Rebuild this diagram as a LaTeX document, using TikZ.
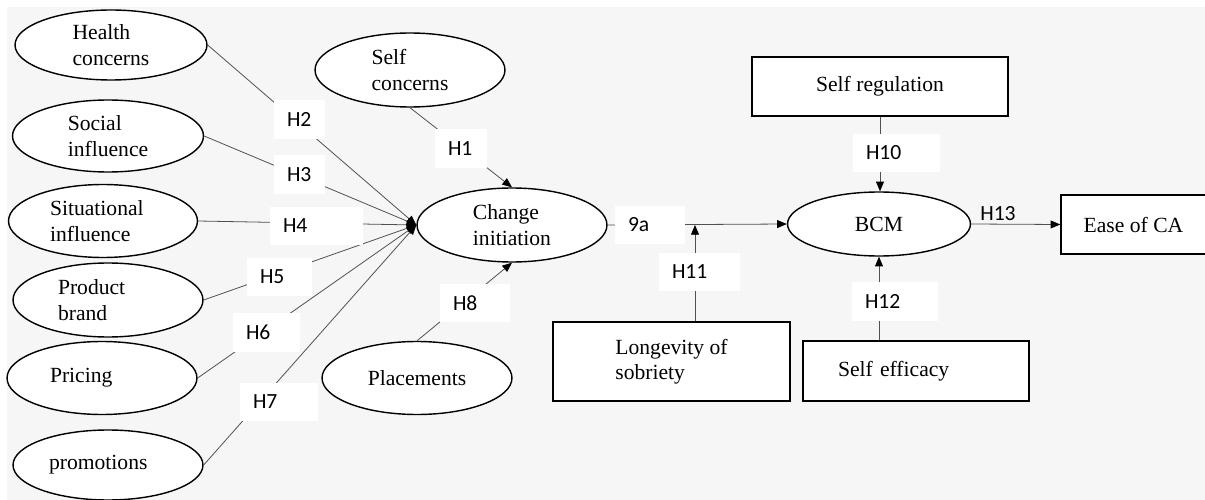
\documentclass[tikz,border=0pt]{standalone}
\usepackage{fontspec}
\setmainfont{Liberation Serif}
\newfontfamily\hypfont{Carlito}
\usepackage{xcolor}
\usetikzlibrary{shapes.geometric,arrows.meta}
\definecolor{paneback}{HTML}{F6F6F6}
\definecolor{linkgray}{HTML}{505050}

\begin{document}
\begin{tikzpicture}[x=0.02cm,y=-0.02cm,
  construct/.style={ellipse,draw,line width=0.8pt,fill=white,align=left,inner sep=0pt,
    font=\fontsize{12.3}{14.5}\selectfont},
  measure/.style={rectangle,draw,line width=0.8pt,fill=white,align=left,
    font=\fontsize{12.3}{14.5}\selectfont},
  hyp/.style={fill=white,inner xsep=0.26cm,inner ysep=0pt,minimum height=0.77cm,align=left,
    font=\hypfont\fontsize{12.3}{14}\selectfont},
  link/.style={draw=linkgray,line width=0.45pt,-{Triangle[length=5.5pt,width=4.5pt,color=black]}}]
  \useasboundingbox (0,0) rectangle (1205,500);
  \fill[paneback] (7,7) rectangle (1205,500);

  % antecedents on the left
  \node[construct,minimum width=3.84cm,minimum height=1.4cm] (health) at (111,45) {Health\\concerns};
  \node[construct,minimum width=3.82cm,minimum height=1.44cm] (social) at (108,136) {Social\\influence};
  \node[construct,minimum width=3.78cm,minimum height=1.46cm,text width=2.12cm] (situ) at (103,221) {Situational\\influence};
  \node[construct,minimum width=3.8cm,minimum height=1.48cm,text width=2cm] (brand) at (108,300) {Product\\brand};
  \node[construct,minimum width=3.8cm,minimum height=1.46cm,text width=2.08cm] (pricing) at (102,378) {Pricing};
  \node[construct,minimum width=3.8cm,minimum height=1.4cm,text width=2.36cm] (promo) at (108,465) {promotions};
  \node[construct,minimum width=3.8cm,minimum height=1.48cm] (selfc) at (410,70) {Self\\concerns};
  \node[construct,minimum width=3.8cm,minimum height=1.46cm] (place) at (417,378) {Placements};

  % change stage and outcome
  \node[construct,minimum width=3.8cm,minimum height=1.48cm] (change) at (512,225) {Change\\initiation};
  \node[construct,minimum width=3.66cm,minimum height=1.28cm] (bcm) at (879,224) {BCM};
  \node[measure,minimum width=2.9cm,minimum height=1.18cm] (ease) at (1133.5,224.5) {Ease of CA};

  % moderators
  \node[measure,minimum width=4.74cm,minimum height=1.58cm] (sober) at (671.5,361.5) {Longevity of\\sobriety};
  \node[measure,minimum width=5.12cm,minimum height=1.18cm] (selfreg) at (880,86.5) {Self regulation};
  \node[measure,minimum width=4.52cm,minimum height=1.2cm,text width=3.12cm] (selfeff) at (916,371) {Self efficacy};
  \coordinate (join) at (695,225);

  % paths
  \foreach \src in {health,social,situ,brand,pricing,promo}
    \draw[link] (\src.east) -- (change.west);
  \draw[link] (selfc.south) -- (change.north);
  \draw[link] (place.north) -- (change.south);
  \draw[link] (change.east) -- (bcm.west);
  \draw[link] (join |- sober.north) -- (join);
  \draw[link] (selfreg.south) -- (selfreg.south |- bcm.north);
  \draw[link] (bcm.south |- selfeff.north) -- (bcm.south);
  \draw[link] (bcm.east) -- (ease.west);

  % hypothesis labels
  \node[hyp,text width=0.52cm] (h1) at (461,148.5) {H1};
  \node[hyp,text width=0.5cm] (h2) at (299.5,119.5) {H2};
  \node[hyp,text width=0.5cm] (h3) at (299.5,174.5) {H3};
  \node[hyp,text width=1.34cm] (h4) at (316.5,226) {H4};
  \node[hyp,text width=0.78cm] (h5) at (279.5,277) {H5};
  \node[hyp,text width=0.82cm] (h6) at (266.5,332.5) {H6};
  \node[hyp,text width=1.04cm] (h7) at (279,402) {H7};
  \node[hyp,text width=0.88cm] (h8) at (475,303) {H8};
  \node[hyp,text width=0.88cm] (h9a) at (650,225) {9a};
  \node[hyp,text width=1.22cm] (h10) at (896.5,153) {H10};
  \node[hyp,text width=1.1cm] (h11) at (699.5,272) {H11};
  \node[hyp,text width=1.2cm] (h12) at (895,301.5) {H12};
  \node[font=\hypfont\fontsize{12.3}{14}\selectfont] (h13) at (998,214) {H13};
\end{tikzpicture}
\end{document}
